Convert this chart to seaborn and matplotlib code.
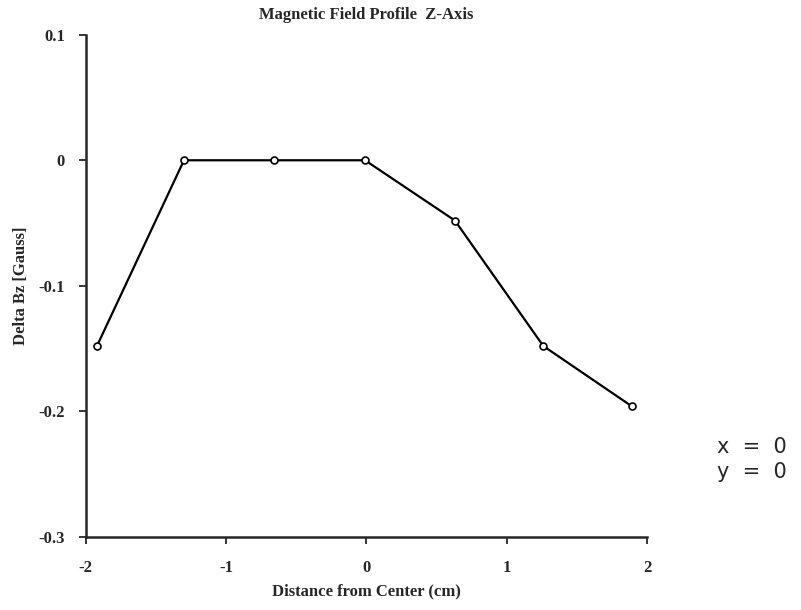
import matplotlib
matplotlib.use("Agg")
import matplotlib.pyplot as plt
import seaborn as sns
import pandas as pd

# Data
distance = [-1.92, -1.30, -0.66, -0.01, 0.63, 1.26, 1.89]
delta_bz = [-0.148, 0.0, 0.0, 0.0, -0.048, -0.148, -0.196]

df = pd.DataFrame({"Distance": distance, "DeltaBz": delta_bz})

sns.set_style("ticks")
plt.rcParams["font.family"] = ["Liberation Serif", "DejaVu Serif"]

fig = plt.figure(figsize=(8.01, 6.10), dpi=100)
ax = fig.add_axes([0.107, 0.12, 0.701, 0.823])

sns.lineplot(data=df, x="Distance", y="DeltaBz", ax=ax, color="black",
             linewidth=1.6, marker="o", markersize=5,
             markerfacecolor="white", markeredgecolor="black",
             markeredgewidth=1.2)

ax.set_xlim(-2, 2)
ax.set_ylim(-0.3, 0.1)
ax.set_xticks([-2, -1, 0, 1, 2])
ax.set_xticklabels(["-2", "-1", "0", "1", "2"])
ax.set_yticks([-0.3, -0.2, -0.1, 0, 0.1])
ax.set_yticklabels(["-0.3", "-0.2", "-0.1", "0", "0.1"])
ax.tick_params(direction="out", length=5, width=1.3, labelsize=12)
ax.tick_params(axis="x", pad=12)
ax.tick_params(axis="y", pad=10)
for t in ax.get_xticklabels() + ax.get_yticklabels():
    t.set_fontweight("bold")

sns.despine(ax=ax)
for side in ["left", "bottom"]:
    ax.spines[side].set_linewidth(1.8)

ax.set_title("Magnetic Field Profile  Z-Axis", fontsize=12, fontweight="bold", pad=11)
ax.set_xlabel("Distance from Center (cm)", fontsize=12, fontweight="bold", labelpad=5)
ax.set_ylabel("Delta Bz [Gauss]", fontsize=12, fontweight="bold", labelpad=7)

fig.text(0.895, 0.268, "x  =  0", fontsize=15, family="DejaVu Sans", ha="left", va="center")
fig.text(0.895, 0.227, "y  =  0", fontsize=15, family="DejaVu Sans", ha="left", va="center")

fig.savefig("out.png", dpi=100)
